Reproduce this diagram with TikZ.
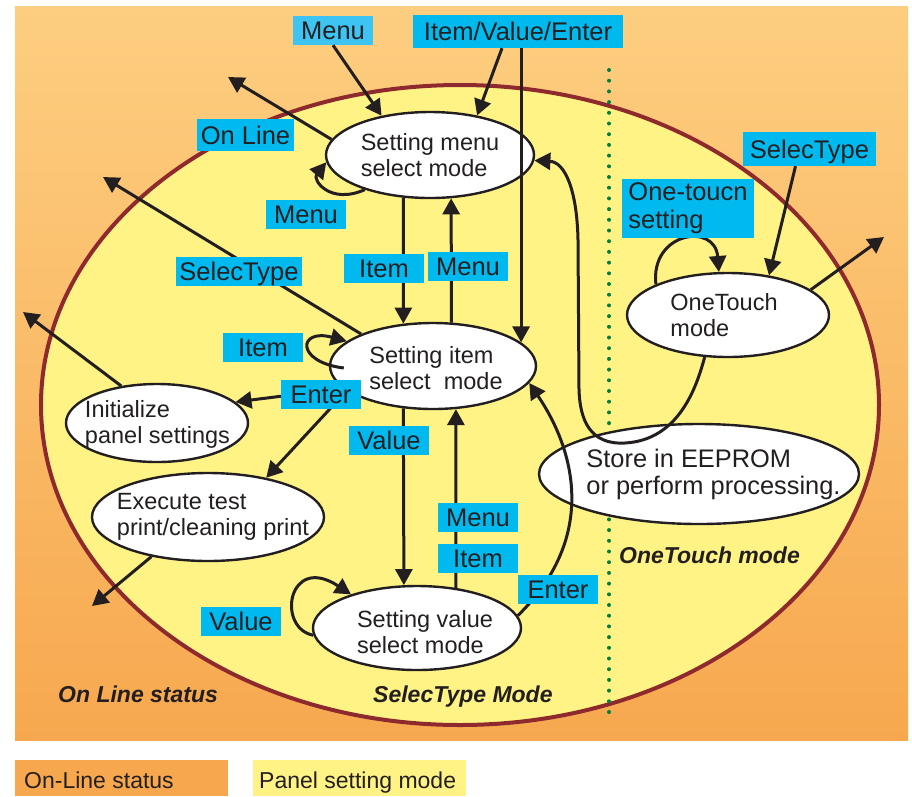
\documentclass[tikz,border=0pt]{standalone}
\usepackage{fontspec}
\setmainfont{Liberation Sans}
\usetikzlibrary{arrows.meta,calc,shapes.geometric}
\definecolor{ink}{RGB}{35,31,32}
\definecolor{lblcyan}{RGB}{0,185,238}
\definecolor{lblcyanlt}{RGB}{62,196,242}
\definecolor{bgtop}{RGB}{253,206,128}
\definecolor{bgbot}{RGB}{247,168,79}
\definecolor{panelyel}{RGB}{255,243,134}
\definecolor{bigred}{RGB}{142,42,46}
\definecolor{dotgreen}{RGB}{0,128,64}
\newcommand\lblfont{\fontsize{25.5}{28.3}\selectfont}
\newcommand\ndfont{\fontsize{23.5}{26}\selectfont}
\begin{document}
\begin{tikzpicture}[x=1pt,y=-1pt,
  stn/.style={ellipse, draw=ink, line width=2.4pt, fill=white, inner sep=0pt},
  stxt/.style={font=\ndfont, text=ink, align=left, inner sep=0pt},
  lblbase/.style={fill=lblcyan, inner sep=0pt, font=\lblfont, text=ink},
  lbl/.style={lblbase, text height=18.3pt, text depth=0pt, minimum height=29pt, minimum width=80pt},
  arr/.style={draw=ink, line width=3pt, -{Triangle[length=16pt,width=17pt]}},
  region/.style={font=\fontsize{23}{26}\selectfont\bfseries\itshape, text=ink, inner sep=0pt, anchor=base west},
  legtxt/.style={font=\fontsize{23}{26}\selectfont, text=ink, inner sep=0pt, anchor=base west},
  legbox/.style={minimum width=213pt, minimum height=36pt, inner sep=0pt, anchor=north west}]
\useasboundingbox (0,0) rectangle (912,796);
% background
\shade[top color=bgtop, bottom color=bgbot] (15,6) rectangle (908,740);
\draw[draw=bigred, line width=4pt, fill=panelyel] (460,405) ellipse [x radius=419, y radius=320];
\draw[dotgreen, line width=4pt, dash pattern=on 0pt off 10.7pt, line cap=round] (609,70) -- (609,717);
% state ellipses
\node[stn, minimum width=208pt, minimum height=86pt] (menu) at (430,155) {};
\node[stn, minimum width=206pt, minimum height=86pt] (item) at (433,366) {};
\node[stn, minimum width=208pt, minimum height=84pt] (value) at (417,628) {};
\node[stn, minimum width=182pt, minimum height=78pt] (init) at (157,423) {};
\node[stn, minimum width=232pt, minimum height=88pt] (exec) at (208,517) {};
\node[stn, minimum width=202pt, minimum height=84pt] (ot) at (728,315) {};
\node[stn, minimum width=320pt, minimum height=100pt] (store) at (699,474) {};
% texts
\node[stxt] (menuT) at (430,155) {Setting menu\\select mode};
\node[stxt] (itemT) at (436,368) {Setting item\\select\ \ mode};
\node[stxt] (valueT) at (425,632) {Setting value\\select mode};
\node[stxt] (initT) at (157.5,424) {Initialize\\panel settings};
\node[stxt] (execT) at (213,516.5) {Execute test\\print/cleaning print};
\node[stxt] (otT) at (724,315) {OneTouch\\mode};
\node[stxt, font=\fontsize{25.4}{27}\selectfont] (storeT) at (713.5,474) {Store in EEPROM\\or perform processing.};
% free ends
\coordinate (cOnLine) at (228,77);
\coordinate (cSelL) at (103,177);
\coordinate (cInit) at (23,312);
\coordinate (cExec) at (92,606);
\coordinate (cOT) at (884,237);
% source labels
\node[lbl, fill=lblcyanlt] (lblMenuTop) at (333,30.5) {Menu};
\node[lbl, minimum width=210pt, minimum height=33pt] (lblIVE) at (518,31.5) {Item/Value/Enter};
\node[lbl, minimum width=133pt, minimum height=34pt] (lblSelR) at (809.5,149) {SelecType};
% connectors
\draw[arr] (lblMenuTop.south) -- (menu.141);
\draw[arr] ([xshift=-16pt]lblIVE.south) -- (menu.40);
\draw[arr] (item.15 |- lblIVE.south) -- (item.15);
\draw[arr] (menu.171) -- (cOnLine);
\draw[arr] (menu.208) .. controls (330,205) and (312,180) .. (menu.184);
\draw[arr] (menu.238) -- (item.125);
\draw[arr] (item.67) -- (menu.296);
\draw[arr] (item.156) -- (cSelL);
\draw[arr] ($(item.west)+(15,2)$) .. controls (295,362) and (298,328) .. (item.164);
\draw[arr] (item.194) -- (init.15);
\draw[arr] (item.196) -- (exec.34);
\draw[arr] (exec.215) -- (cExec);
\draw[arr] (init.134) -- (cInit);
\draw[arr] (item.235) -- (value.107);
\draw[arr] (value.46) -- (item.298);
\draw[arr] (value.184) .. controls (276,628) and (288,553) .. (value.153);
\draw[arr] (value.7) .. controls (595,540) and (578,455) .. (item.350);
\draw[arr] (ot.241) .. controls (697,385) and (680,440) .. (625,443) .. controls (590,445) and (580,420) .. (579,390) -- (578,240) .. controls (577,190) and (565,162) .. (menu.357);
\draw[arr] ([xshift=-14pt]lblSelR.south) -- (ot.44);
\draw[arr] (ot.157) .. controls (650,232) and (715,222) .. (ot.102);
\draw[arr] (ot.17) -- (cOT);
% other labels
\node[lbl, minimum width=97pt, minimum height=32pt] (lblOnLine) at (245.5,135) {On Line};
\node[lbl] (lblMenuLoop) at (306,214.5) {Menu};
\node[lbl, minimum width=126pt] (lblSelL) at (239,271.5) {SelecType};
\node[lbl] (lblItemMI) at (384,268.5) {Item};
\node[lbl] (lblMenuIM) at (468,266.5) {Menu};
\node[lbl] (lblItemLoop) at (263,347.5) {Item};
\node[lbl] (lblEnterA) at (321,394.5) {Enter};
\node[lbl] (lblValueA) at (389,440.5) {Value};
\node[lbl] (lblMenuVI) at (478,517.5) {Menu};
\node[lbl] (lblItemVI) at (478,558.5) {Item};
\node[lbl] (lblEnterB) at (558,589.5) {Enter};
\node[lbl] (lblValueLoop) at (241,621.5) {Value};
\node[lblbase, minimum width=132pt, minimum height=59pt, align=left] (lblOTS) at (688,208.5) {One-toucn\\setting};
% region titles
\node[region] (rOn) at (58,702) {On Line status};
\node[region] (rSel) at (373,702) {SelecType Mode};
\node[region] (rOT) at (619,563) {OneTouch mode};
% legend
\node[legbox, fill=bgbot] (legOnBox) at (15,760) {};
\node[legtxt] (legOnTxt) at (24,788) {On-Line status};
\node[legbox, fill=panelyel] (legPanelBox) at (253,760) {};
\node[legtxt] (legPanelTxt) at (259,788) {Panel setting mode};
\end{tikzpicture}
\end{document}
